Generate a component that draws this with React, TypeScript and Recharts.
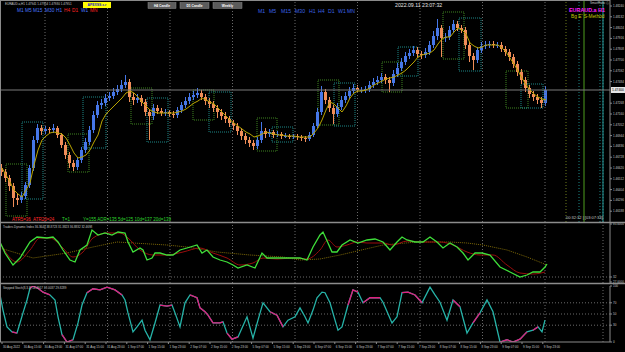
import React from 'react';
import { ComposedChart, LineChart, Line, Bar, XAxis, YAxis, ReferenceLine, ReferenceArea } from 'recharts';

// ---------- main panel data (EURAUD.a H1) ----------
const FIRST_OPEN = 1.4662;
const closes = [
  1.4658,1.4652,1.4644,1.4632,1.4630,1.4634,1.4645,1.4662,1.4690,1.4702,
  1.4699,1.4701,1.4700,1.4702,1.4695,1.4685,1.4675,1.4667,1.4663,1.4670,
  1.4680,1.4688,1.4700,1.4715,1.4725,1.4727,1.4732,1.4734,1.4738,1.4741,
  1.4745,1.4748,1.4733,1.4730,1.4732,1.4728,1.4718,1.4714,1.4722,1.4719,
  1.4717,1.4718,1.4716,1.4715,1.4720,1.4725,1.4729,1.4733,1.4735,1.4737,
  1.4733,1.4729,1.4726,1.4722,1.4718,1.4714,1.4711,1.4707,1.4704,1.4699,
  1.4694,1.4690,1.4687,1.4684,1.4690,1.4699,1.4696,1.4698,1.4695,1.4696,
  1.4694,1.4694,1.4693,1.4694,1.4693,1.4692,1.4691,1.4695,1.4704,1.4718,
  1.4738,1.4730,1.4722,1.4716,1.4723,1.4730,1.4734,1.4739,1.4742,1.4740,
  1.4740,1.4741,1.4745,1.4748,1.4750,1.4753,1.4750,1.4747,1.4756,1.4762,
  1.4768,1.4774,1.4777,1.4780,1.4776,1.4775,1.4778,1.4785,1.4794,1.4802,
  1.4792,1.4793,1.4800,1.4806,1.4802,1.4800,1.4785,1.4774,1.4770,1.4780,
  1.4784,1.4785,1.4786,1.4785,1.4785,1.4781,1.4778,1.4773,1.4766,1.4758,
  1.4750,1.4742,1.4736,1.4733,1.4730,1.4727,1.4740,
];
const highs = [
  1.4666,1.4661,1.4655,1.4647,1.4636,1.4638,1.4648,1.4665,1.4694,1.4706,
  1.4705,1.4704,1.4703,1.4706,1.4704,1.4697,1.4688,1.4678,1.4670,1.4673,
  1.4683,1.4692,1.4704,1.4719,1.4729,1.4731,1.4736,1.4738,1.4742,1.4745,
  1.4750,1.4755,1.4751,1.4737,1.4736,1.4735,1.4731,1.4721,1.4726,1.4725,
  1.4722,1.4721,1.4720,1.4719,1.4723,1.4728,1.4733,1.4737,1.4739,1.4742,
  1.4740,1.4736,1.4732,1.4729,1.4725,1.4721,1.4718,1.4714,1.4710,1.4707,
  1.4702,1.4697,1.4693,1.4690,1.4693,1.4708,1.4702,1.4701,1.4700,1.4699,
  1.4698,1.4697,1.4696,1.4696,1.4696,1.4695,1.4694,1.4698,1.4707,1.4722,
  1.4744,1.4741,1.4733,1.4725,1.4727,1.4734,1.4738,1.4743,1.4746,1.4745,
  1.4743,1.4744,1.4749,1.4752,1.4754,1.4757,1.4756,1.4753,1.4760,1.4767,
  1.4772,1.4778,1.4781,1.4784,1.4783,1.4779,1.4782,1.4789,1.4799,1.4811,
  1.4805,1.4797,1.4804,1.4810,1.4809,1.4805,1.4803,1.4788,1.4777,1.4783,
  1.4788,1.4789,1.4789,1.4789,1.4788,1.4788,1.4784,1.4781,1.4776,1.4769,
  1.4761,1.4753,1.4745,1.4739,1.4736,1.4733,1.4744,
];
const lows = [
  1.4654,1.4648,1.4639,1.4623,1.4625,1.4627,1.4631,1.4642,1.4659,1.4687,
  1.4695,1.4696,1.4697,1.4697,1.4692,1.4682,1.4671,1.4662,1.4659,1.4660,
  1.4667,1.4677,1.4685,1.4697,1.4712,1.4721,1.4724,1.4729,1.4731,1.4735,
  1.4738,1.4742,1.4728,1.4725,1.4727,1.4724,1.4714,1.4690,1.4710,1.4716,
  1.4714,1.4714,1.4713,1.4712,1.4712,1.4717,1.4722,1.4726,1.4730,1.4732,
  1.4730,1.4725,1.4722,1.4718,1.4712,1.4710,1.4707,1.4703,1.4700,1.4695,
  1.4690,1.4686,1.4683,1.4680,1.4681,1.4687,1.4692,1.4693,1.4692,1.4693,
  1.4691,1.4692,1.4691,1.4691,1.4690,1.4689,1.4688,1.4689,1.4693,1.4702,
  1.4715,1.4726,1.4718,1.4706,1.4713,1.4720,1.4727,1.4731,1.4736,1.4737,
  1.4737,1.4737,1.4738,1.4742,1.4745,1.4747,1.4746,1.4738,1.4744,1.4753,
  1.4759,1.4765,1.4771,1.4774,1.4772,1.4771,1.4772,1.4775,1.4782,1.4790,
  1.4773,1.4788,1.4790,1.4797,1.4799,1.4797,1.4781,1.4768,1.4760,1.4767,
  1.4777,1.4781,1.4782,1.4782,1.4782,1.4778,1.4774,1.4769,1.4762,1.4754,
  1.4746,1.4738,1.4732,1.4729,1.4726,1.4722,1.4724,
];
const maValues = [
  1.4662,1.4655,1.4648,1.4640,1.4636,1.4633,1.4640,1.4647,1.4665,1.4680,
  1.4690,1.4694,1.4697,1.4698,1.4697,1.4696,1.4692,1.4685,1.4677,1.4672,
  1.4673,1.4675,1.4680,1.4688,1.4695,1.4709,1.4716,1.4720,1.4724,1.4728,
  1.4732,1.4737,1.4739,1.4737,1.4733,1.4728,1.4724,1.4720,1.4718,1.4717,
  1.4717,1.4717,1.4717,1.4717,1.4718,1.4719,1.4721,1.4724,1.4727,1.4729,
  1.4732,1.4730,1.4728,1.4726,1.4722,1.4718,1.4714,1.4710,1.4707,1.4704,
  1.4701,1.4698,1.4696,1.4693,1.4694,1.4696,1.4698,1.4697,1.4696,1.4695,
  1.4695,1.4694,1.4694,1.4694,1.4693,1.4693,1.4693,1.4693,1.4697,1.4702,
  1.4710,1.4720,1.4728,1.4726,1.4722,1.4718,1.4724,1.4732,1.4737,1.4739,
  1.4739,1.4740,1.4742,1.4745,1.4747,1.4749,1.4751,1.4752,1.4753,1.4755,
  1.4757,1.4760,1.4764,1.4768,1.4773,1.4775,1.4776,1.4777,1.4780,1.4786,
  1.4791,1.4793,1.4793,1.4798,1.4802,1.4800,1.4796,1.4787,1.4784,1.4782,
  1.4783,1.4785,1.4785,1.4785,1.4785,1.4782,1.4778,1.4772,1.4766,1.4759,
  1.4752,1.4745,1.4740,1.4736,1.4733,1.4731,1.4730,
];

const priceTicks = [1.4824,1.48132,1.48024,1.47916,1.47808,1.477,1.47592,1.47484,1.47268,1.4716,
  1.47052,1.46944,1.46836,1.46728,1.4662,1.46512,1.46404,1.46296,1.46188];

// zones drawn as dotted rectangles: [x1, x2, priceTop, priceBottom, kind]
const zones: [number, number, number, number, string][] = [
  [1, 6.25, 1.4666, 1.4614, 'g'], [5, 10.25, 1.4708, 1.4631, 't'],
  [16.5, 21.75, 1.4696, 1.4658, 'g'], [20.25, 26, 1.4733, 1.4682, 't'],
  [32.25, 37.5, 1.4742, 1.4706, 'g'], [36.25, 41.5, 1.4732, 1.4688, 't'],
  [47.75, 53, 1.4740, 1.4710, 'g'], [51.75, 57.25, 1.4738, 1.4698, 't'],
  [63.75, 68.75, 1.4712, 1.4679, 'g'], [67.5, 72.75, 1.4703, 1.4688, 't'],
  [79, 84.25, 1.4750, 1.4705, 'g'], [83, 88.25, 1.4747, 1.4704, 't'],
  [95, 100, 1.4768, 1.4738, 'g'], [99, 104, 1.4783, 1.4754, 't'],
  [110.25, 115.5, 1.4818, 1.4771, 'g'], [114.25, 119.75, 1.4812, 1.4759, 't'],
  [126, 131.5, 1.4759, 1.4722, 'g'], [129.75, 135.25, 1.4746, 1.4722, 't'],
];
// session marker lines in the right margin: [x, kind]
const sessionLines: [number, string][] = [[141, 'olive'], [144.25, 'teal'], [145.5, 'green'], [149.5, 'teal'], [150.25, 'tealSolid']];

// day separators and time axis
const gridX = [10.75, 26.375, 42, 57.625, 73.25, 88.875, 104.5, 120.125, 135.75, 150.25];
const timeTickPos = [0,5.2,10.4,15.6,20.8,26,31.2,36.4,41.6,46.8,52,57.2,62.4,67.6,72.8,78,83.2,88.4,93.6,98.8,104,109.2,114.4,119.6,124.8,130,135.2];
const timeTickLabels = ['30 Aug 2022','30 Aug 15:00','30 Aug 23:00','31 Aug 07:00','31 Aug 15:00','31 Aug 23:00',
  '1 Sep 07:00','1 Sep 15:00','1 Sep 23:00','2 Sep 07:00','2 Sep 15:00','2 Sep 23:00','5 Sep 07:00','5 Sep 15:00',
  '5 Sep 23:00','6 Sep 07:00','6 Sep 15:00','6 Sep 23:00','7 Sep 07:00','7 Sep 15:00','7 Sep 23:00','8 Sep 07:00',
  '8 Sep 15:00','8 Sep 23:00','9 Sep 07:00','9 Sep 15:00','9 Sep 23:00'];

// ---------- Traders Dynamic Index ----------
const tdiGreen = [[-0.5,67],[0.75,56],[2.75,44],[4.5,51],[7,67],[8.75,72],[11.25,71],[12.75,72],[14,67],[15.25,59],[17,49],[18.25,47],[19.5,59],[21.25,64],[22.5,79],[24,74],[25.75,76],[27.5,74],[29,77],[30.75,76],[31.5,67],[32.75,57],[34.5,61],[35.25,59],[36.25,49],[37.5,51],[38.25,56],[39.5,56],[41.25,54],[42.75,54],[44.5,59],[46.25,61],[48.75,64],[50,56],[51.25,59],[52.75,52],[54.5,49],[56.25,47],[57.75,44],[59,41],[61.25,44],[63.25,41],[65,56],[66.25,51],[68.75,51],[72,51],[74.5,51],[76.25,49],[77.75,62],[79.5,74],[80.25,77],[81.5,66],[82.5,57],[83.75,57],[85,64],[87,69],[89,66],[91.25,69],[93.25,70],[95.25,67],[97,59],[98.75,67],[100,72],[101.25,69],[103.25,67],[105.25,67],[107,72],[108.75,67],[110.25,61],[112,66],[113.75,62],[115.25,56],[116.5,49],[118.25,56],[120,56],[122,54],[124.5,42],[127,37],[129.5,32],[131.25,34],[132.75,37],[134.5,37],[135.75,42],[136.25,45]];
const tdiRed = [[-0.5,66],[3.75,47],[7,59],[9.5,71],[12,71],[15.25,61],[17.75,52],[20.25,57],[22.75,71],[26.25,76],[29.5,76],[31.5,71],[34.5,59],[37.75,54],[41.25,54],[45.25,57],[49.5,61],[52.75,56],[56.25,51],[59.5,44],[62.75,46],[65.25,51],[68.75,50],[72.75,51],[76.25,50],[79.5,59],[81.5,69],[83.75,62],[86.25,64],[88.75,67],[91.25,66],[95.25,66],[97.75,64],[101.25,68],[105.25,67],[109.5,67],[112.75,64],[116.25,57],[119.5,54],[122.75,54],[126.25,44],[129.5,36],[132.75,35],[135.75,37]];
const tdiSlow = [[-0.5,61],[7.75,51],[16.25,56],[22.75,62],[28.75,67],[32.75,66],[41.25,64],[46.25,62],[53.75,57],[62,54],[70.25,52],[74.5,49],[79.5,50],[84.5,54],[95.25,64],[103.75,67],[112,67],[116.25,66],[120.25,64],[126.25,59],[131.25,52],[136.25,44]];

// ---------- Stepped Stoch ----------
const stochMain = [[-0.5,84],[0.25,57],[1.25,27],[2.5,18],[3.75,16],[4.5,34],[5.25,52],[6.25,75],[7,96],[7.75,100],[9,96],[10.25,89],[12,84],[13.25,75],[14,45],[15,13],[16.25,0],[17.75,4],[19,34],[20,66],[21.25,88],[22.75,95],[24.5,93],[26.25,98],[28.25,93],[30,84],[30.75,75],[31.5,52],[32.75,18],[33.75,27],[35,39],[35.75,21],[37,4],[38.25,34],[39.5,66],[41.25,64],[42.5,66],[43.25,52],[44.5,27],[45.75,70],[47,84],[48.75,79],[49.5,61],[50.75,54],[51.5,48],[52.75,34],[54.5,34],[55.25,36],[56.25,16],[57.5,5],[59,9],[61.25,45],[62.75,7],[64,39],[65.25,70],[67,54],[68.75,48],[70.25,27],[71.5,39],[73.25,45],[74.5,61],[75.75,45],[76.5,34],[77.75,57],[78.75,79],[80,89],[80.75,88],[82,70],[83.25,39],[84,21],[85,27],[86.5,66],[87.75,93],[89,89],[90.25,70],[92,79],[94.5,79],[95.25,71],[97.5,34],[98.75,45],[100,88],[101.5,89],[103.25,84],[105,70],[107,98],[108.25,84],[109.5,71],[111.25,39],[112.75,75],[114.5,63],[116.25,16],[117.75,34],[119.5,52],[121.25,75],[122.75,54],[124.5,0],[126.25,4],[127.75,0],[129.5,5],[131.25,18],[132.75,21],[134,27],[135,18],[135.75,39]];
const stochHighlightSpans = [[2.5,3.75],[7,12],[14.5,18],[21.25,30],[39.5,42.5],[47,55.25],[56.25,59],[67,70.25],[86.5,89],[90.25,94.5],[100,105],[112.75,114.5],[117.75,119.5],[124.5,131.25],[132.75,134]];

const BULL = '#4677e8';
const BEAR = '#f08d58';
const GRID = '#6a6a6a';
const AXIS = '#8a8a8a';
const TXT = '#c8c8c8';

const candles = closes.map((c, i) => ({
  i, open: i === 0 ? FIRST_OPEN : closes[i - 1], close: c, high: highs[i], low: lows[i], ma: maValues[i],
}));
const lastClose = closes[closes.length - 1];
const toPts = (arr: number[][]) => arr.map(([x, v]) => ({ x, v }));
const greenData = toPts(tdiGreen);
const redData = toPts(tdiRed);
const slowData = toPts(tdiSlow);
const stochData = toPts(stochMain);
const pinkData: { x: number; v: number | null }[] = [];
stochHighlightSpans.forEach(([a, b]) => {
  stochData.forEach((p) => { if (p.x >= a && p.x <= b) pinkData.push(p); });
  pinkData.push({ x: b + 0.01, v: null });
});

const zoneColor: Record<string, string> = { g: '#3f8420', t: '#1d8787' };
const sessionStyle: Record<string, { stroke: string; dash?: string }> = {
  olive: { stroke: '#6f7d1c', dash: '1 2' },
  teal: { stroke: '#1d8787', dash: '1 2' },
  green: { stroke: '#4e9e1e' },
  tealSolid: { stroke: '#1a9a9a' },
};

const Candle = (props: any) => {
  const { x, y, width, height, payload } = props;
  if (x == null || y == null || !payload) return null;
  const { open, close, high, low } = payload;
  const top = Math.min(y, y + height);
  const h = Math.abs(height);
  const k = h / Math.max(high - low, 1e-9);
  const color = close >= open ? BULL : BEAR;
  const bTop = top + (high - Math.max(open, close)) * k;
  const bH = Math.max(1, Math.abs(close - open) * k);
  const cx = x + width / 2;
  return (
    <g>
      <line x1={cx} x2={cx} y1={top} y2={top + h} stroke={color} strokeWidth={1} />
      <rect x={x} y={bTop} width={width} height={bH} fill={color} />
    </g>
  );
};

const PriceTag = (props: any) => {
  const vb = props.viewBox || {};
  const x = (vb.x || 0) + (vb.width || 0);
  const y = vb.y || 0;
  return (
    <g>
      <rect x={x + 1} y={y - 3} width={14} height={6} fill="#e6e6e6" />
      <text x={x + 2} y={y + 1.2} fontSize={3.3} fill="#000">{props.text}</text>
    </g>
  );
};

const TimeTick = (props: any) => {
  const { x, y, payload } = props;
  const k = timeTickPos.indexOf(payload.value);
  return <text x={x + 1} y={y + 2} fontSize={3} fill={TXT} textAnchor="start">{timeTickLabels[k]}</text>;
};

const xAxisHidden = <XAxis type="number" dataKey="x" domain={[-0.5, 152]} hide allowDataOverflow />;
const gridLines = gridX.map((g) => <ReferenceLine key={'g' + g} x={g} stroke={GRID} strokeDasharray="1 2" ifOverflow="visible" />);

export default function App() {
  return (
    <div style={{ position: 'absolute', left: 0, top: 0, width: 625, height: 352, background: '#000', overflow: 'hidden', fontFamily: '"Liberation Sans", Arial, sans-serif' }}>
      {/* main price panel */}
      <div style={{ position: 'absolute', left: 0, top: 0 }}>
        <ComposedChart width={625} height={222} data={candles} margin={{ top: 0, right: 0, bottom: 0, left: 0 }}>
          <XAxis type="number" dataKey="i" domain={[-0.5, 152]} hide allowDataOverflow />
          <YAxis orientation="right" width={15} domain={[1.4608, 1.483]} ticks={priceTicks} interval={0}
            tickFormatter={(v: number) => v.toFixed(5)} tick={{ fill: TXT, fontSize: 3 }} tickSize={2} tickMargin={1}
            axisLine={{ stroke: AXIS }} tickLine={{ stroke: AXIS }} allowDataOverflow />
          {gridX.map((g) => <ReferenceLine key={'m' + g} x={g} stroke={GRID} strokeDasharray="1 2" ifOverflow="visible" />)}
          {sessionLines.map(([x, kind]) => (
            <ReferenceLine key={'s' + x} x={x} stroke={sessionStyle[kind].stroke} strokeDasharray={sessionStyle[kind].dash} ifOverflow="visible" />
          ))}
          {zones.map(([x1, x2, y1, y2, kind], n) => (
            <ReferenceArea key={'z' + n} x1={x1} x2={x2} y1={y1} y2={y2} fill="none" fillOpacity={0}
              stroke={zoneColor[kind]} strokeDasharray="1 1" strokeWidth={1} ifOverflow="visible" />
          ))}
          <ReferenceLine y={lastClose} stroke="#7a7a7a" ifOverflow="visible" label={<PriceTag text={lastClose.toFixed(5)} />} />
          <Bar dataKey={(d: any) => [d.low, d.high]} barSize={3} isAnimationActive={false}
            shape={(p: any) => <Candle {...p} />} />
          <Line dataKey="ma" type="linear" stroke="#b8a400" strokeWidth={1} dot={false} activeDot={false} isAnimationActive={false} />
        </ComposedChart>
      </div>

      {/* Traders Dynamic Index panel */}
      <div style={{ position: 'absolute', left: 0, top: 221 }}>
        <LineChart width={625} height={64} margin={{ top: 2, right: 0, bottom: 2, left: 0 }}>
          {xAxisHidden}
          <YAxis orientation="right" width={15} domain={[26, 86]} ticks={[85, 32, 27]} interval={0}
            tickFormatter={(v: number) => (v === 32 ? '32' : v.toFixed(4))} tick={{ fill: TXT, fontSize: 3 }}
            tickSize={2} tickMargin={1} axisLine={{ stroke: AXIS }} tickLine={{ stroke: AXIS }} allowDataOverflow />
          {gridLines}
          <ReferenceLine y={32} stroke="#6a6a6a" strokeDasharray="1 2" />
          <Line data={slowData} dataKey="v" type="linear" stroke="#7f6a08" strokeDasharray="1 1" strokeWidth={1} dot={false} activeDot={false} isAnimationActive={false} />
          <Line data={redData} dataKey="v" type="monotone" stroke="#9a0d0d" strokeWidth={1} dot={false} activeDot={false} isAnimationActive={false} />
          <Line data={greenData} dataKey="v" type="linear" stroke="#3fe03a" strokeWidth={1.3} dot={false} activeDot={false} isAnimationActive={false} />
        </LineChart>
      </div>

      {/* Stepped Stoch panel with time axis */}
      <div style={{ position: 'absolute', left: 0, top: 284 }}>
        <LineChart width={625} height={68} margin={{ top: 2, right: 0, bottom: 0, left: 0 }}>
          <XAxis type="number" dataKey="x" domain={[-0.5, 152]} allowDataOverflow ticks={timeTickPos} interval={0}
            height={10} tick={<TimeTick />} tickSize={2} axisLine={{ stroke: AXIS }} tickLine={{ stroke: AXIS }} />
          <YAxis orientation="right" width={15} domain={[0, 100]} ticks={[0, 30, 50, 70, 100]} interval={0}
            tick={{ fill: TXT, fontSize: 3 }} tickSize={2} tickMargin={1} axisLine={{ stroke: AXIS }} tickLine={{ stroke: AXIS }} allowDataOverflow />
          {gridLines}
          <ReferenceLine y={70} stroke="#6a6a6a" strokeDasharray="1 2" />
          <ReferenceLine y={50} stroke="#6a6a6a" strokeDasharray="1 2" />
          <ReferenceLine y={30} stroke="#6a6a6a" strokeDasharray="1 2" />
          <Line data={stochData} dataKey="v" type="linear" stroke="#26b3a8" strokeWidth={1.3} dot={false} activeDot={false} isAnimationActive={false} />
          <Line data={pinkData} dataKey="v" type="linear" stroke="#e0207f" strokeWidth={1.3} dot={false} activeDot={false} connectNulls={false} isAnimationActive={false} />
        </LineChart>
      </div>

      {/* frame, separators and on-chart labels */}
      <svg width={625} height={352} style={{ position: 'absolute', left: 0, top: 0, pointerEvents: 'none' }}>
        <line x1={0.5} y1={0} x2={0.5} y2={342} stroke={AXIS} />
        <line x1={0} y1={0.5} x2={610} y2={0.5} stroke={AXIS} />
        <line x1={0} y1={222.5} x2={625} y2={222.5} stroke="#8c8c8c" strokeWidth={1.5} />
        <line x1={0} y1={283.5} x2={625} y2={283.5} stroke="#8c8c8c" strokeWidth={1.5} />

        <text x={5} y={5} fontSize={3} fill={TXT}>EURAUD.a,H1  1.47941 1.47954 1.47930 1.47951</text>
        <rect x={83} y={2} width={28} height={6} fill="#ffff00" />
        <text x={97} y={6.2} fontSize={3.4} fill="#1a1acc" textAnchor="middle" fontWeight="bold">APEXSS.s.r</text>
        {[['H4 Candle', 148, 28], ['D1 Candle', 180, 29], ['Weekly', 213, 29]].map(([t, x, w]) => (
          <g key={t as string}>
            <rect x={x as number} y={2.5} width={w as number} height={6} fill="#5c5c5c" stroke="#8a8a8a" strokeWidth={0.5} />
            <text x={(x as number) + (w as number) / 2} y={6.6} fontSize={3.3} fill="#ffffff" textAnchor="middle" fontWeight="bold">{t}</text>
          </g>
        ))}
        {[['M1', 17, '#4a78ff'], ['M5', 25, '#4a78ff'], ['M15', 33, '#4a78ff'], ['M30', 45, '#4a78ff'], ['H1', 56, '#4a78ff'],
          ['H4', 64, '#ff2020'], ['D1', 72, '#ff2020'], ['W1', 81, '#4a78ff'], ['MN', 90, '#ff2020']].map(([t, x, c]) => (
          <text key={'a' + t} x={x as number} y={12} fontSize={4.8} fill={c as string}>{t}</text>
        ))}
        {[['M1', 258], ['M5', 269], ['M15', 281], ['M30', 295], ['H1', 309], ['H4', 318], ['D1', 328], ['W1', 338], ['MN', 347]].map(([t, x]) => (
          <text key={'b' + t} x={x as number} y={12.5} fontSize={5.2} fill="#3a62e0">{t}</text>
        ))}
        <text x={395} y={7} fontSize={5.2} fill="#e6e6e6">2022.09.11 23:07:32</text>
        <text x={590} y={4} fontSize={3} fill={TXT}>SmartRatio ⓘ</text>
        <text x={569} y={11.5} fontSize={5.4} fill="#ff1aff" fontWeight="bold">EURAUD.a H1</text>
        <text x={571} y={18} fontSize={4.8} fill="#c8c800">Bg E' S-Method</text>

        <text x={12} y={220.5} fontSize={4.5} fill="#ff2a2a">ATR5=36</text>
        <text x={33} y={220.5} fontSize={4.5} fill="#ff2a2a">ATR20=24</text>
        <text x={62} y={220.5} fontSize={4.5} fill="#2fd62f">T=1</text>
        <text x={83} y={220.5} fontSize={4.5} fill="#2fd62f">Y=155  ADR=135  5d=125  10d=137  20d=139</text>
        <text x={566} y={219} fontSize={4} fill={TXT}>00:32:32 | [03:07:33]</text>

        <text x={3} y={228} fontSize={3} fill={TXT}>Traders Dynamic Index 36.3644 38.8723 31.3823 36.8832 32.4698</text>
        <text x={3} y={289} fontSize={3} fill={TXT}>Stepped Stoch(8,3,3) 16.4917 18.0037 29.8289</text>
      </svg>
    </div>
  );
}
